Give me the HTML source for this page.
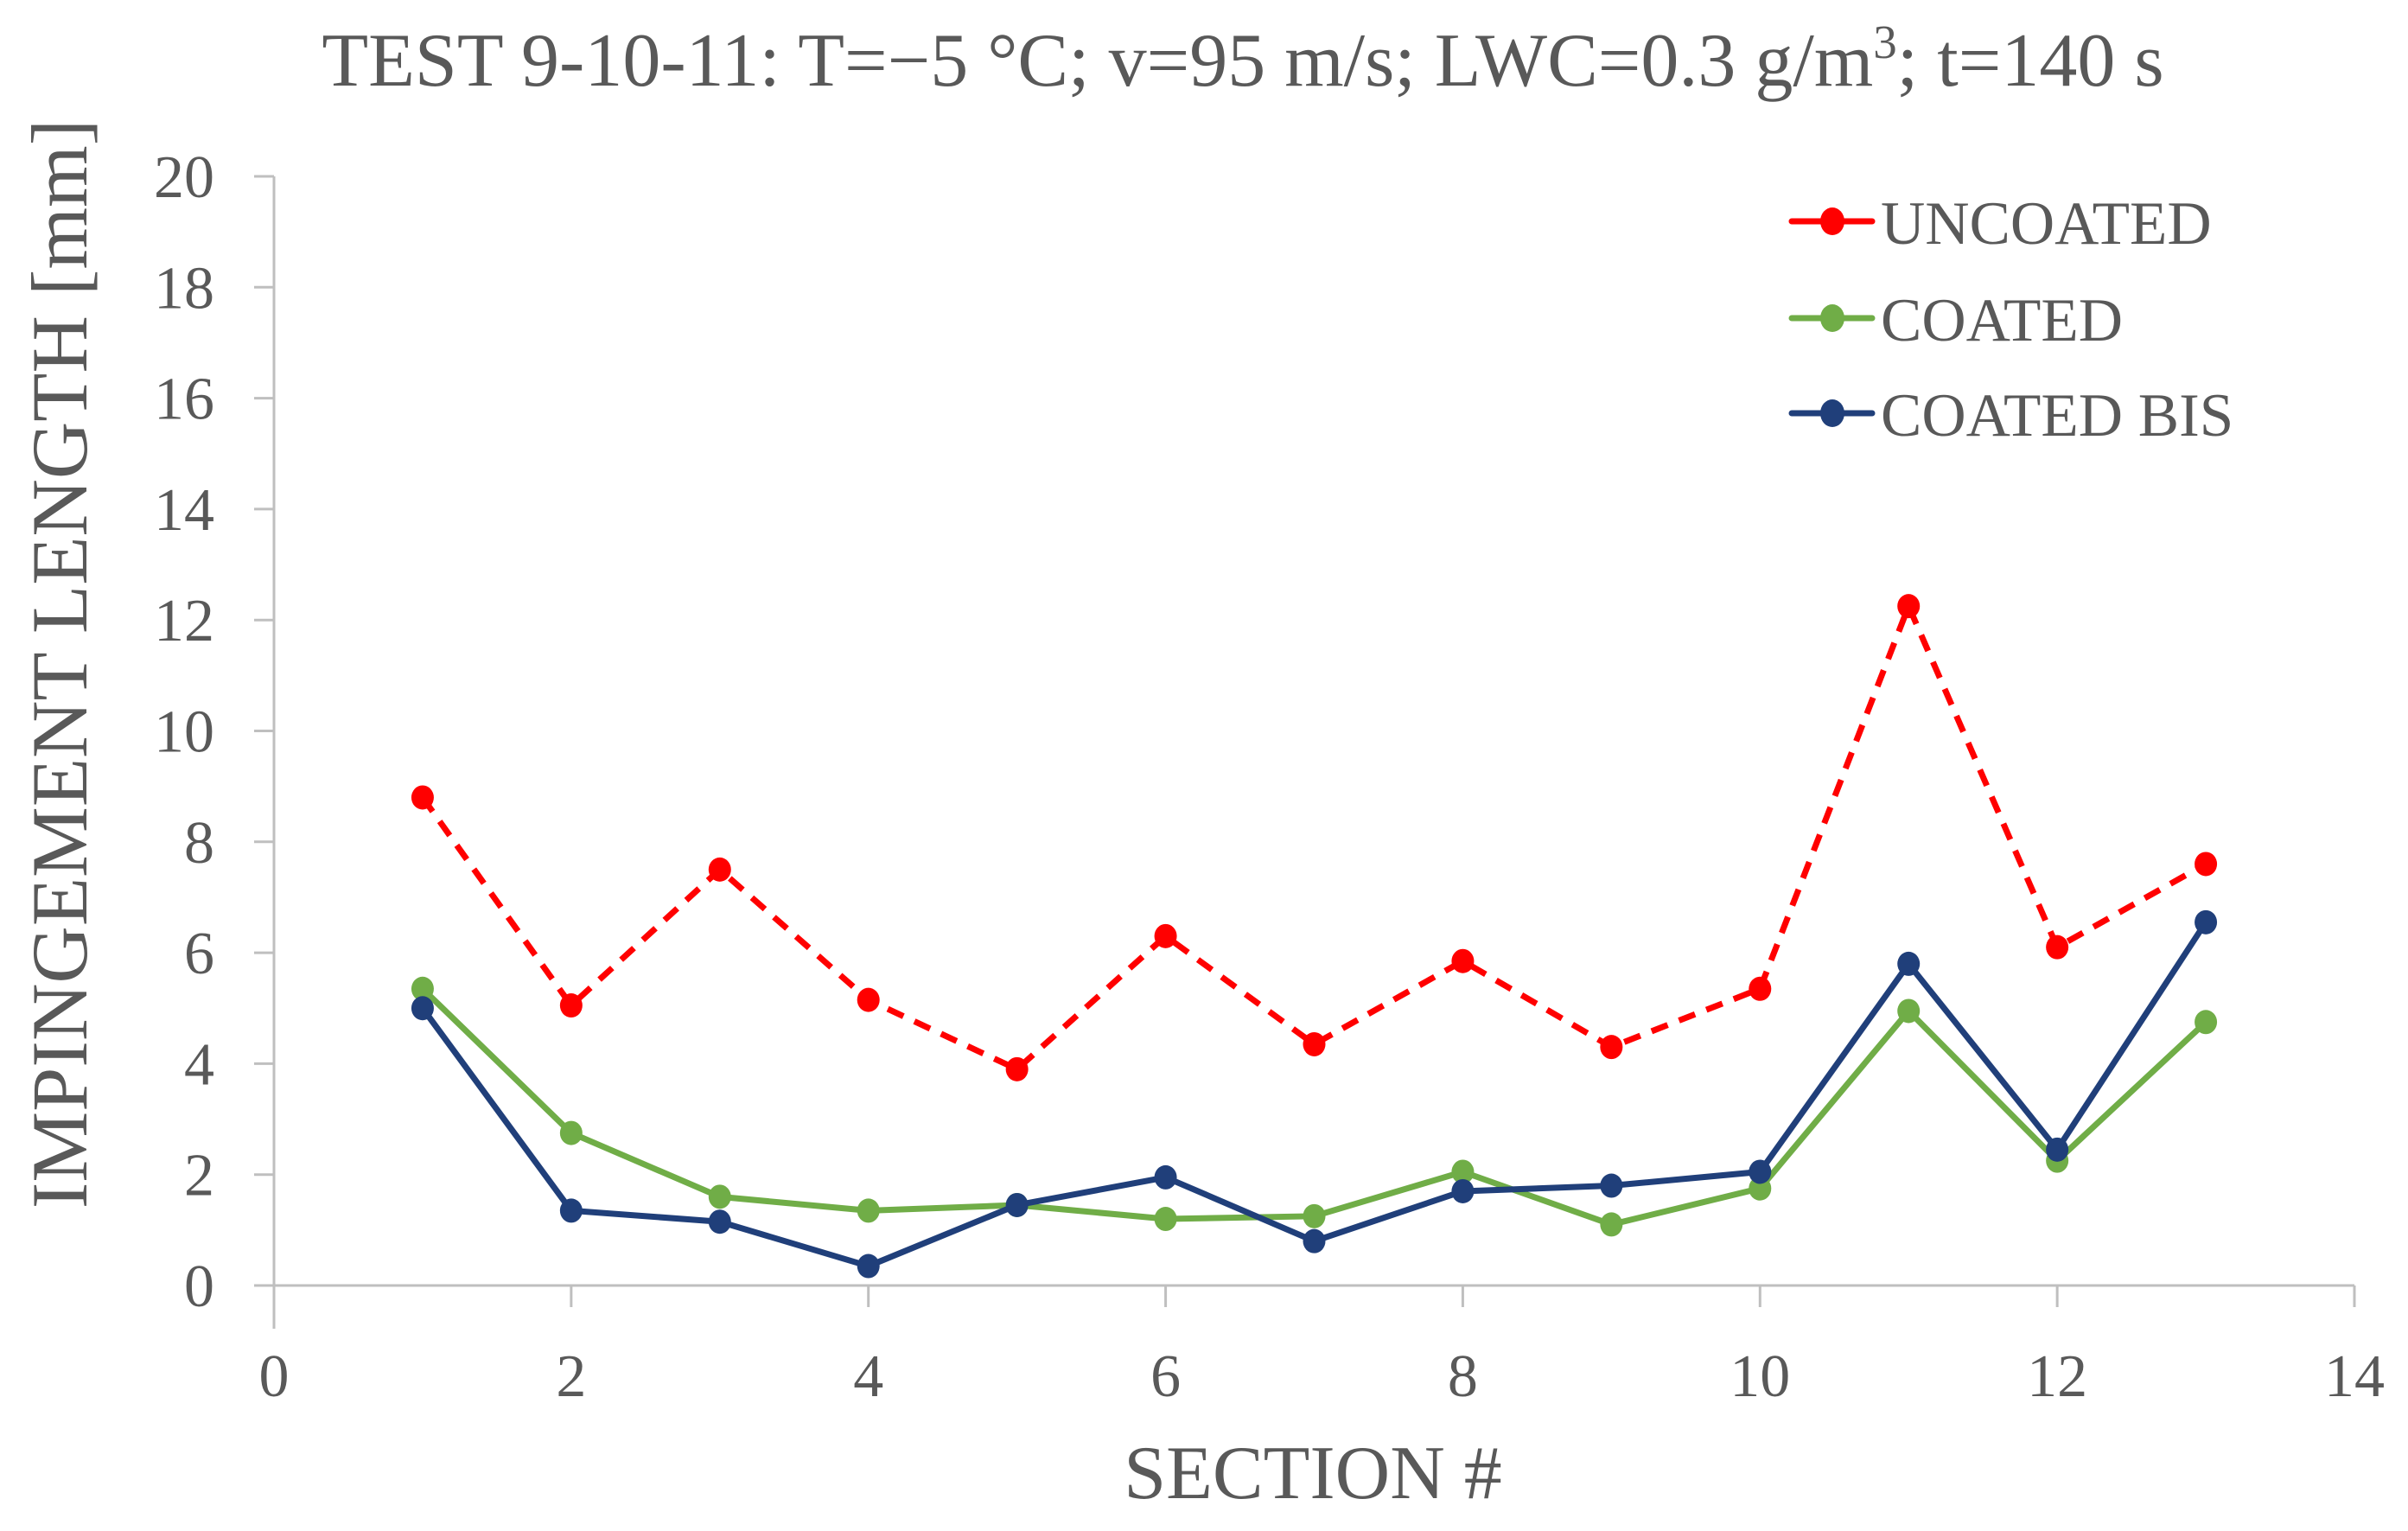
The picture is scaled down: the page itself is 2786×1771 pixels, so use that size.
<!DOCTYPE html>
<html><head><meta charset="utf-8">
<style>
html,body{margin:0;padding:0;background:#fff;}
svg{display:block;}
text{font-family:"Liberation Serif",serif;fill:#595959;}
</style></head>
<body>
<svg id="chart" width="2786" height="1771" viewBox="0 0 2786 1771" xmlns="http://www.w3.org/2000/svg">
<text x="1438" y="99" font-size="88" text-anchor="middle">TEST 9-10-11: T=−5 °C; v=95 m/s; LWC=0.3 g/m<tspan font-size="55" dy="-32">3</tspan><tspan dy="32">;  t=140 s</tspan></text>
<g id="axes"></g>
<g id="series"></g>
<text transform="translate(100,768) rotate(-90)" font-size="92" text-anchor="middle">IMPINGEMENT LENGTH [mm]</text>
<text x="1519" y="1733" font-size="88" text-anchor="middle">SECTION #</text>
<g id="legend"></g>
</svg>
<script>
const sections = [1,2,3,4,5,6,7,8,9,10,11,12,13];
const uncoated = [8.8,5.05,7.5,5.15,3.9,6.3,4.35,5.85,4.3,5.35,12.25,6.1,7.6];
const coated = [5.35,2.75,1.6,1.35,1.45,1.2,1.25,2.05,1.1,1.75,4.95,2.25,4.75];
const coatedBis = [5.0,1.35,1.15,0.35,1.45,1.95,0.8,1.7,1.8,2.05,5.8,2.45,6.55];
const xTicks = [0,2,4,6,8,10,12,14];
const yTicks = [0,2,4,6,8,10,12,14,16,18,20];
const seriesNames = ["UNCOATED","COATED","COATED BIS"];

const NS="http://www.w3.org/2000/svg";
const X0=317,X1=2724,Y0=1487,Y1=204;
const xs=v=>X0+(v-0)/(14-0)*(X1-X0);
const ys=v=>Y0-(v-0)/(20-0)*(Y0-Y1);
function mk(tag,attrs,parent){const e=document.createElementNS(NS,tag);for(const k in attrs)e.setAttribute(k,attrs[k]);parent.appendChild(e);return e;}
const axes=document.getElementById('axes');
let yl=mk('line',{x1:X0,y1:Y1,x2:X0,y2:Y0+50,stroke:'#BFBFBF','stroke-width':3},axes);


let xl=mk('line',{x1:X0-23,y1:Y0,x2:X1,y2:Y0,stroke:'#BFBFBF','stroke-width':3},axes);


yTicks.forEach(v=>{
  let t=mk('line',{x1:X0-23,y1:ys(v),x2:X0,y2:ys(v),stroke:'#BFBFBF','stroke-width':3},axes);
  
  
  let l=mk('text',{x:248,y:ys(v)+24,'font-size':70,'text-anchor':'end'},axes);
  l.textContent=v;
  
  
});
xTicks.forEach(v=>{
  let t=mk('line',{x1:xs(v),y1:Y0,x2:xs(v),y2:Y0+25,stroke:'#BFBFBF','stroke-width':3},axes);
  
  
  let l=mk('text',{x:xs(v),y:1615,'font-size':70,'text-anchor':'middle'},axes);
  l.textContent=v;
  
  
});
const sg=document.getElementById('series');
const defs=[[uncoated,'#FF0000','20,14','uncoated'],[coated,'#70AD47','','coated'],[coatedBis,'#203F7A','','coated-bis']];
defs.forEach(([data,col,dash,nm])=>{
  const pts=sections.map((s,i)=>xs(s)+','+ys(data[i])).join(' ');
  let p=mk('polyline',{points:pts,fill:'none',stroke:col,'stroke-width':7,'stroke-linejoin':'round'},sg);
  if(dash)p.setAttribute('stroke-dasharray',dash);
  
  
  sections.forEach((s,i)=>{
    let c=mk('ellipse',{cx:xs(s),cy:ys(data[i]),rx:13,ry:14,fill:col},sg);
    
    
  });
});
const lg=document.getElementById('legend');
const lys=[256,368,478];
defs.forEach(([data,col,dash,nm],i)=>{
  let g=mk('g',{},lg);
  
  
  mk('line',{x1:2073,y1:lys[i],x2:2166,y2:lys[i],stroke:col,'stroke-width':7,'stroke-linecap':'round'},g);
  mk('ellipse',{cx:2120,cy:lys[i],rx:14,ry:16,fill:col},g);
  let t=mk('text',{x:2176,y:lys[i]+26,'font-size':71},g);
  t.textContent=seriesNames[i];
});
</script>
</body></html>
